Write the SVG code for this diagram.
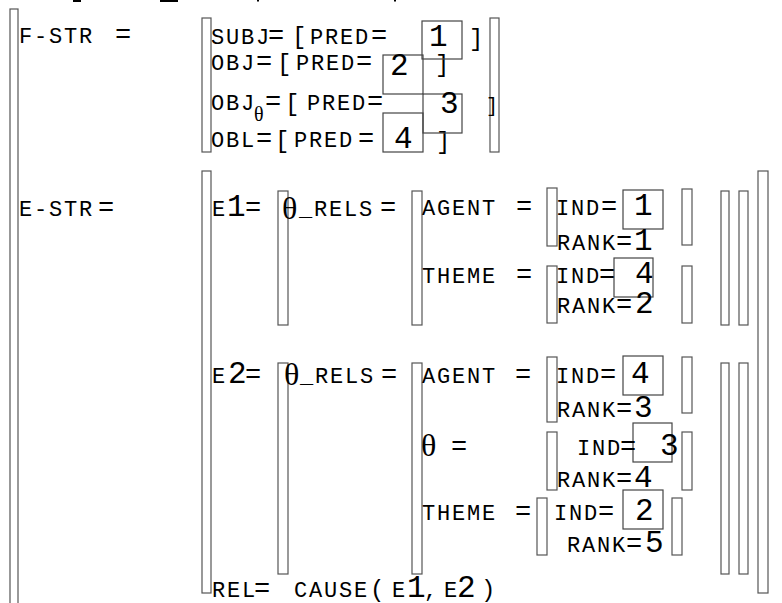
<svg xmlns="http://www.w3.org/2000/svg" width="782" height="603" viewBox="0 0 782 603">
<style>
.t{font-family:"Liberation Mono",monospace;font-size:22px;letter-spacing:1.8px;fill:#000}
.d{font-family:"Liberation Mono",monospace;font-size:31px;fill:#000}
.e{font-family:"Liberation Mono",monospace;font-size:27px;fill:#000}
.b{font-family:"Liberation Mono",monospace;font-size:24px;fill:#000}
.bs{font-family:"Liberation Mono",monospace;font-size:20px;fill:#000}
.th{font-family:"Liberation Serif","DejaVu Serif",serif;font-size:32px;fill:#000}
.ths{font-family:"Liberation Serif","DejaVu Serif",serif;font-size:20px;fill:#000}
.br{fill:#fff;stroke:#555;stroke-width:1.2}
.bx{fill:none;stroke:#444;stroke-width:1.2}
.fr{fill:#000}
</style>
<rect width="782" height="603" fill="#fff"/>
<g id="fragments">
<rect class="fr" x="73" y="0" width="8" height="2"/>
<rect class="fr" x="160" y="0" width="18" height="2"/>
<rect class="fr" x="257" y="0" width="2" height="1.5"/>
<rect class="fr" x="394" y="0" width="2" height="1.5"/>
</g>
<g id="connectors"></g>
<g id="outer">
<rect class="br" x="10" y="9" width="8" height="600"/>
</g>
<g id="f-str">
<rect class="br" x="202" y="18" width="9" height="134"/>
<rect class="br" x="490" y="18" width="9" height="134"/>
<text class="t" x="19" y="43">F-STR</text><text class="e" x="115" y="43">=</text>
<text class="t" x="211" y="44">SUBJ</text><text class="e" x="268" y="44">=</text><text class="b" x="292" y="44">[</text><text class="t" x="310" y="44">PRED</text><text class="e" x="371" y="44">=</text><text class="b" x="469" y="46">]</text>
<text class="t" x="211" y="70">OBJ</text><text class="e" x="256" y="70">=</text><text class="b" x="277" y="71">[</text><text class="t" x="296" y="70">PRED</text><text class="e" x="356" y="70">=</text><text class="b" x="435" y="72">]</text>
<text class="t" x="211" y="110">OBJ</text><text class="ths" x="254" y="121">θ</text><text class="e" x="265" y="110">=</text><text class="b" x="285" y="111">[</text><text class="t" x="307" y="110">PRED</text><text class="e" x="367" y="110">=</text><text class="bs" x="486" y="112">]</text>
<text class="t" x="211" y="147">OBL</text><text class="e" x="256" y="147">=</text><text class="b" x="275" y="148">[</text><text class="t" x="294" y="147">PRED</text><text class="e" x="358" y="147">=</text><text class="b" x="436" y="149">]</text>
<rect class="bx" x="422" y="21" width="40" height="38"/>
<rect class="bx" x="383" y="55" width="40" height="39"/>
<rect class="bx" x="423" y="94" width="39" height="39"/>
<rect class="bx" x="383" y="113" width="40" height="39"/>
<text class="d" x="429" y="46">1</text>
<text class="d" x="390" y="75">2</text>
<text class="d" x="440" y="113">3</text>
<text class="d" x="394" y="148">4</text>
</g>
<g id="e-str">
<rect class="br" x="202" y="171" width="9" height="422"/>
<rect class="br" x="758" y="171" width="10" height="422"/>
<text class="t" x="19" y="216">E-STR</text><text class="e" x="98" y="216">=</text>
<text class="t" x="212" y="216">E</text><text class="d" x="227" y="216">1</text><text class="e" x="245" y="216">=</text>
<text class="t" x="212" y="383">E</text><text class="d" x="228" y="383">2</text><text class="e" x="245" y="383">=</text>
<text class="t" x="212" y="597">REL</text><text class="e" x="254" y="597">=</text><text class="t" x="294" y="597">CAUSE</text><text class="b" x="370" y="597">(</text><text class="t" x="392" y="597">E</text><text class="d" x="407" y="597">1</text><text class="t" x="424" y="597">,</text><text class="t" x="444" y="597">E</text><text class="d" x="457" y="597">2</text><text class="b" x="481" y="597">)</text>
</g>
<g id="e1">
<rect class="br" x="278" y="191" width="10" height="134"/>
<rect class="br" x="412" y="191" width="10" height="134"/>
<rect class="br" x="721" y="191" width="8" height="134"/>
<rect class="br" x="739" y="191" width="9" height="134"/>
<text class="th" x="282" y="219">θ</text><text class="t" x="299" y="216">_RELS</text><text class="e" x="380" y="216">=</text>
</g>
<g id="e1-agent">
<rect class="br" x="547" y="188" width="10" height="58"/>
<rect class="br" x="682" y="189" width="10" height="56"/>
<rect class="bx" x="623" y="190" width="40" height="39"/>
<text class="t" x="422" y="215">AGENT</text><text class="e" x="516" y="215">=</text>
<text class="t" x="556" y="215">IND</text><text class="e" x="601" y="215">=</text><text class="d" x="634" y="215">1</text>
<text class="t" x="557" y="250">RANK</text><text class="e" x="616" y="250">=</text><text class="d" x="634" y="250">1</text>
</g>
<g id="e1-theme">
<rect class="br" x="547" y="266" width="10" height="57"/>
<rect class="br" x="682" y="266" width="10" height="57"/>
<rect class="bx" x="614" y="258" width="39" height="39"/>
<text class="t" x="422" y="283">THEME</text><text class="e" x="516" y="283">=</text>
<text class="t" x="556" y="283">IND</text><text class="e" x="599" y="283">=</text><text class="d" x="635" y="283">4</text>
<text class="t" x="557" y="313">RANK</text><text class="e" x="616" y="313">=</text><text class="d" x="635" y="313">2</text>
</g>
<g id="e2">
<rect class="br" x="278" y="363" width="10" height="211"/>
<rect class="br" x="412" y="363" width="10" height="211"/>
<rect class="br" x="721" y="363" width="8" height="211"/>
<rect class="br" x="739" y="363" width="9" height="211"/>
<text class="th" x="284" y="385">θ</text><text class="t" x="300" y="383">_RELS</text><text class="e" x="381" y="383">=</text>
</g>
<g id="e2-agent">
<rect class="br" x="547" y="357" width="10" height="65"/>
<rect class="br" x="682" y="357" width="10" height="56"/>
<rect class="bx" x="623" y="356" width="40" height="39"/>
<text class="t" x="422" y="383">AGENT</text><text class="e" x="515" y="383">=</text>
<text class="t" x="556" y="383">IND</text><text class="e" x="600" y="383">=</text><text class="d" x="631" y="383">4</text>
<text class="t" x="557" y="417">RANK</text><text class="e" x="616" y="417">=</text><text class="d" x="634" y="417">3</text>
</g>
<g id="e2-theta">
<rect class="br" x="547" y="432" width="10" height="58"/>
<rect class="br" x="682" y="432" width="10" height="58"/>
<rect class="bx" x="633" y="423" width="39" height="39"/>
<text class="th" x="421" y="456">θ</text><text class="e" x="451" y="455">=</text>
<text class="t" x="577" y="455">IND</text><text class="e" x="620" y="455">=</text><text class="d" x="660" y="455">3</text>
<text class="t" x="557" y="487">RANK</text><text class="e" x="616" y="487">=</text><text class="d" x="634" y="487">4</text>
</g>
<g id="e2-theme">
<rect class="br" x="537" y="498" width="10" height="57"/>
<rect class="br" x="672" y="498" width="10" height="57"/>
<rect class="bx" x="623" y="490" width="40" height="39"/>
<text class="t" x="422" y="520">THEME</text><text class="e" x="515" y="520">=</text>
<text class="t" x="554" y="520">IND</text><text class="e" x="598" y="520">=</text><text class="d" x="635" y="520">2</text>
<text class="t" x="567" y="552">RANK</text><text class="e" x="626" y="552">=</text><text class="d" x="645" y="552">5</text>
</g>
</svg>
